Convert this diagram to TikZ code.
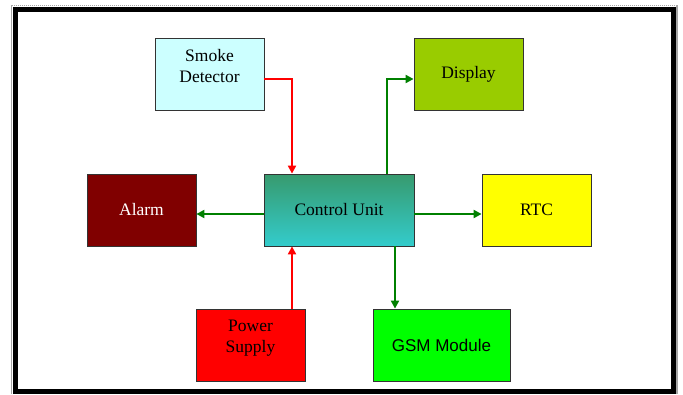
\documentclass[tikz,border=0pt]{standalone}
\usepackage{fontspec}
\setmainfont{Liberation Serif}
\newfontfamily\gsmfont{Liberation Sans}
\usepackage{xcolor}
\usepackage{tikz}
\usetikzlibrary{arrows.meta}

\definecolor{smokecol}{HTML}{CCFFFF}
\definecolor{displaycol}{HTML}{99CC00}
\definecolor{alarmcol}{HTML}{800000}
\definecolor{cutop}{HTML}{379A6E}
\definecolor{cubottom}{HTML}{33CCCC}
\definecolor{rtccol}{HTML}{FFFF00}
\definecolor{powercol}{HTML}{FF0000}
\definecolor{gsmcol}{HTML}{00FF00}
\definecolor{wirered}{HTML}{FF0000}
\definecolor{wiregreen}{HTML}{008000}

\begin{document}
\begin{tikzpicture}[
            x=1pt, y=-1pt, % pixel-like units, y going down
            block/.style={rectangle, draw=black!80, line width=0.8pt, minimum width=109pt, minimum height=72pt, align=center, inner sep=0pt, font=\fontsize{17.5}{20.5}\selectfont}, % every box
            twoline/.style={text depth=17pt}, % two-line labels sit a little high
            redwire/.style={draw=wirered, line width=2.4pt, -{Triangle[length=8pt,width=8pt]}}, % power and sensor lines
            greenwire/.style={draw=wiregreen, line width=2.4pt, -{Triangle[length=8pt,width=8pt]}} % output lines
            ]

                % page frame
                \useasboundingbox (0,0) rectangle (683,394);
                \fill[white] (0,0) rectangle (683,394);
                \draw[gray!70, line width=1pt] (11.5,5) -- (11.5,394);
                \draw[gray!70, line width=1pt, densely dotted] (11.5,5) -- (677.5,5);
                \draw[gray!70, line width=1.5pt] (677,5) -- (677,394);
                \draw[black, line width=5pt] (15.5,9.5) rectangle (673,391.5);

                % blocks
                \node[block, twoline, fill=smokecol] (smoke) at (209.5,74.5) {Smoke\\Detector};
                \node[block, fill=displaycol] (display) at (468.5,74.5) {Display};
                \node[block, fill=alarmcol, text=white] (alarm) at (141.5,210) {Alarm};
                \node[block, minimum width=150pt, top color=cutop, bottom color=cubottom] (control) at (339,210) {Control Unit};
                \node[block, fill=rtccol] (rtc) at (536.5,210) {RTC};
                \node[block, twoline, fill=powercol] (power) at (250.5,345) {Power\\Supply};
                \node[block, minimum width=137pt, fill=gsmcol, font=\gsmfont\fontsize{17}{20}\selectfont] (gsm) at (441.5,345) {GSM Module};

                % connectors
                \draw[redwire] ([yshift=-4.5pt]smoke.east) -| ([xshift=-47pt]control.north);
                \draw[redwire] ([xshift=-47pt]control.south |- power.north) -- ([xshift=-47pt]control.south);
                \draw[greenwire] ([xshift=48pt]control.north) |- ([yshift=-4.5pt]display.west);
                \draw[greenwire] ([yshift=-4pt]control.west) -- ([yshift=-4pt]alarm.east);
                \draw[greenwire] ([yshift=-4pt]control.east) -- ([yshift=-4pt]rtc.west);
                \draw[greenwire] ([xshift=56pt]control.south) -- ([xshift=56pt]control.south |- gsm.north);

            \end{tikzpicture}
\end{document}
